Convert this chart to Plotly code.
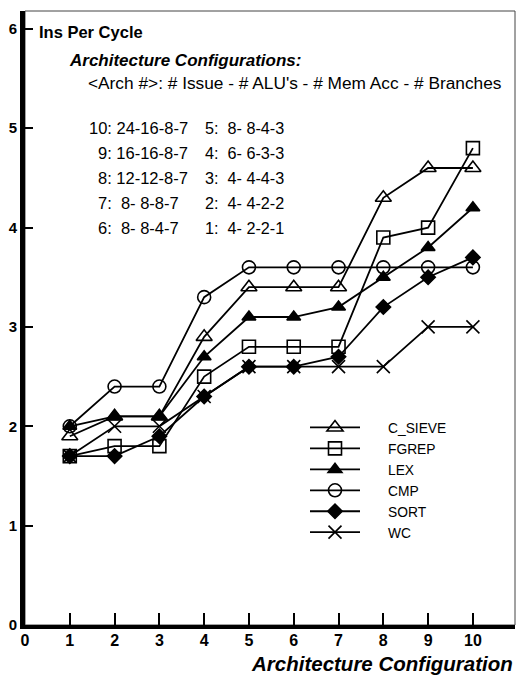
import plotly.graph_objects as go

# ---- data ----
arch = [1, 2, 3, 4, 5, 6, 7, 8, 9, 10]
c_sieve = [1.9, 2.1, 2.1, 2.9, 3.4, 3.4, 3.4, 4.3, 4.6, 4.6]
fgrep = [1.7, 1.8, 1.8, 2.5, 2.8, 2.8, 2.8, 3.9, 4.0, 4.8]
lex = [2.0, 2.1, 2.1, 2.7, 3.1, 3.1, 3.2, 3.5, 3.8, 4.2]
cmp_ = [2.0, 2.4, 2.4, 3.3, 3.6, 3.6, 3.6, 3.6, 3.6, 3.6]
sort_ = [1.7, 1.7, 1.9, 2.3, 2.6, 2.6, 2.7, 3.2, 3.5, 3.7]
wc = [1.7, 2.0, 2.0, 2.3, 2.6, 2.6, 2.6, 2.6, 3.0, 3.0]

x_ticks = [0, 1, 2, 3, 4, 5, 6, 7, 8, 9, 10]
y_ticks = [0, 1, 2, 3, 4, 5, 6]

NB = "\u00a0"
config_left = ["10: 24-16-8-7", "9: 16-16-8-7", "8: 12-12-8-7",
               "7:" + NB * 2 + "8-" + NB + "8-8-7", "6:" + NB * 2 + "8-" + NB + "8-4-7"]
config_right = ["5:" + NB * 2 + "8-" + NB + "8-4-3", "4:" + NB * 2 + "6-" + NB + "6-3-3",
                "3:" + NB * 2 + "4-" + NB + "4-4-3", "2:" + NB * 2 + "4-" + NB + "4-2-2",
                "1:" + NB * 2 + "4-" + NB + "2-2-1"]

FONT = "Liberation Sans, Arial, Helvetica, sans-serif"
W, H = 518, 679
# plot area in page pixels
P_LEFT, P_RIGHT, P_TOP, P_BOTTOM = 25, 515, 11, 625
L, R, T, B = P_LEFT, W - P_RIGHT, P_TOP, H - P_BOTTOM
PW, PH = P_RIGHT - P_LEFT, P_BOTTOM - P_TOP


def px(xp):
    return (xp - P_LEFT) / PW


def py(yp):
    return (P_BOTTOM - yp) / PH


series = [
    ("C_SIEVE", c_sieve, dict(symbol="triangle-up-open", size=14)),
    ("FGREP", fgrep, dict(symbol="square-open", size=13)),
    ("LEX", lex, dict(symbol="triangle-up", size=12)),
    ("CMP", cmp_, dict(symbol="circle-open", size=13)),
    ("SORT", sort_, dict(symbol="diamond", size=11)),
    ("WC", wc, dict(symbol="x-thin-open", size=13)),
]

fig = go.Figure()
for name, vals, mk in series:
    fig.add_trace(go.Scatter(
        x=arch, y=vals, name=NB * 6 + name, mode="lines+markers",
        line=dict(color="black", width=1.8),
        marker=dict(color="black", line=dict(color="black", width=1.6), **mk),
        cliponaxis=False,
    ))

fig.update_layout(
    width=W, height=H,
    margin=dict(l=L, r=R, t=T, b=B),
    plot_bgcolor="white", paper_bgcolor="white",
    font=dict(family=FONT, color="black"),
    xaxis=dict(range=[0, 10.94], tickvals=x_ticks, ticktext=[str(v) for v in x_ticks],
               ticks="inside", ticklen=12, tickwidth=1.5, tickcolor="black",
               showline=True, linewidth=4, linecolor="black", ticklabelstandoff=-2,
               showgrid=False, zeroline=False,
               tickfont=dict(family=FONT, size=16, color="black", weight="bold")),
    yaxis=dict(range=[0, 6.18], tickvals=y_ticks, ticktext=[str(v) for v in y_ticks],
               ticks="inside", ticklen=8, tickwidth=1.5, tickcolor="black",
               showline=True, linewidth=5, linecolor="black",
               showgrid=False, zeroline=False,
               tickfont=dict(family=FONT, size=15, color="black", weight="bold")),
    legend=dict(x=px(305), y=py(412), xanchor="left", yanchor="top",
                font=dict(family=FONT, size=13.8, color="black"),
                bgcolor="rgba(0,0,0,0)", itemwidth=50, tracegroupgap=0),
    showlegend=True,
)

fig.add_shape(type="rect", xref="paper", yref="paper", x0=0, x1=1, y0=0, y1=1,
              line=dict(color="#444", width=1), layer="below")

ann = []
ann.append(dict(text="Ins Per Cycle", x=px(37), y=py(32), xanchor="left", yanchor="middle",
                font=dict(family=FONT, size=16.5, weight="bold")))
ann.append(dict(text="<i>Architecture Configurations:</i>", x=px(67), y=py(60),
                xanchor="left", yanchor="middle", font=dict(family=FONT, size=17, weight="bold")))
ann.append(dict(text="&lt;Arch #&gt;: # Issue - # ALU's - # Mem Acc - # Branches",
                x=px(86), y=py(83), xanchor="left", yanchor="middle", font=dict(family=FONT, size=17.3)))
rows_y = [128, 153, 178, 203, 228]
for i, (lt, rt) in enumerate(zip(config_left, config_right)):
    ann.append(dict(text=lt, x=px(87 if i == 0 else 96), y=py(rows_y[i]), xanchor="left",
                    yanchor="middle", font=dict(family=FONT, size=16.5)))
    ann.append(dict(text=rt, x=px(203), y=py(rows_y[i]), xanchor="left",
                    yanchor="middle", font=dict(family=FONT, size=16.2)))
ann.append(dict(text="<i>Architecture Configuration</i>", x=px(515), y=py(663), xanchor="right",
                yanchor="middle", font=dict(family=FONT, size=20.5, weight="bold")))
for a in ann:
    a.update(xref="paper", yref="paper", showarrow=False)
fig.update_layout(annotations=ann)

fig.write_html(
    "out.html",
    config={"displayModeBar": False},
    post_script=("document.body.style.margin='0';"
                 "document.body.style.overflow='hidden';"
                 "document.documentElement.style.overflow='hidden';"),
)
